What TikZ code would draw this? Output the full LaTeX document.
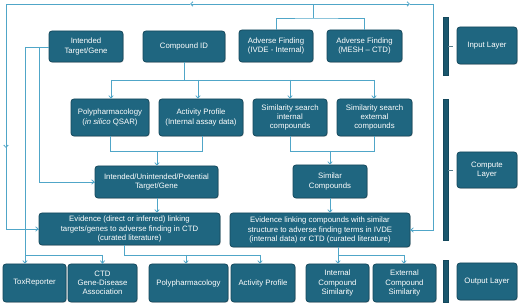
\documentclass[tikz,border=0pt]{standalone}
\usepackage{fontspec}
\setmainfont{Liberation Sans}
\usetikzlibrary{arrows.meta,shadows}
\definecolor{boxfill}{RGB}{31,102,128}
\definecolor{boxedge}{RGB}{20,72,92}
\definecolor{wire}{RGB}{80,166,200}
\begin{document}
\begin{tikzpicture}[x=1pt,y=-1pt,
  box/.style={draw=boxedge,line width=0.8pt,fill=boxfill,rounded corners=3pt,text=white,
    align=center,inner sep=1pt,font=\fontsize{7.8}{9.2}\selectfont,
    drop shadow={shadow xshift=0.8pt,shadow yshift=-0.8pt,opacity=0.35}},
  wirel/.style={draw=wire,line width=0.8pt},
  arr/.style={wirel,-{Straight Barb[length=2.4pt,width=4.5pt]}},
  bar/.style={fill=boxfill!85!black,draw=boxedge,line width=0.4pt},
  tick/.style={draw=boxedge!70,line width=0.5pt}]
\useasboundingbox (0,0) rectangle (520,307);
% nodes
\node[box,minimum width=74pt,minimum height=31pt] (intended) at (86,46.5) {Intended\\Target/Gene};
\node[box,minimum width=82pt,minimum height=31pt] (cid) at (184,46.5) {Compound ID};
\node[box,minimum width=74pt,minimum height=32pt] (ivde) at (276,46) {Adverse Finding\\(IVDE - Internal)};
\node[box,minimum width=75pt,minimum height=32pt] (mesh) at (364.5,46) {Adverse Finding\\(MESH – CTD)};
\node[box,minimum width=60pt,minimum height=37pt] (inputL) at (487,45.5) {Input Layer};
\node[box,minimum width=78pt,minimum height=37pt] (poly) at (110,117.5) {Polypharmacology\\(\textit{in silico} QSAR)};
\node[box,minimum width=84pt,minimum height=37pt] (act) at (201,117.5) {Activity Profile\\(Internal assay data)};
\node[box,minimum width=74pt,minimum height=37pt] (simint) at (290,117.5) {Similarity search\\internal\\compounds};
\node[box,minimum width=75pt,minimum height=37pt] (simext) at (374.5,117.5) {Similarity search\\external\\compounds};
\node[box,minimum width=60pt,minimum height=36pt] (computeL) at (487,170) {Compute\\Layer};
\node[box,minimum width=123pt,minimum height=32pt] (iup) at (156.5,182) {Intended/Unintended/Potential\\Target/Gene};
\node[box,minimum width=74pt,minimum height=33pt] (simc) at (330,181.5) {Similar\\Compounds};
\node[box,minimum width=181pt,minimum height=32pt] (evl) at (129.5,229) {Evidence (direct or inferred) linking\\targets/genes to adverse finding in CTD\\(curated literature)};
\node[box,minimum width=180pt,minimum height=34pt] (evr) at (320,230) {Evidence linking compounds with similar\\structure to adverse finding terms in IVDE\\(internal data) or CTD (curated literature)};
\node[box,minimum width=63pt,minimum height=38pt] (tox) at (34.5,283) {ToxReporter};
\node[box,minimum width=69pt,minimum height=38pt] (ctd) at (102.5,283) {CTD\\Gene-Disease\\Association};
\node[box,minimum width=79pt,minimum height=38pt] (polyo) at (188.5,283) {Polypharmacology};
\node[box,minimum width=64pt,minimum height=38pt] (acto) at (263,283) {Activity Profile};
\node[box,minimum width=63pt,minimum height=38pt] (intc) at (337.5,283) {Internal\\Compound\\Similarity};
\node[box,minimum width=63pt,minimum height=38pt] (extc) at (404.5,283) {External\\Compound\\Similarity};
\node[box,minimum width=60pt,minimum height=37pt] (outputL) at (487,281.5) {Output Layer};
% layer bars
\path[bar] (443,17) rectangle (448,75);
\path[bar] (443,99) rectangle (448,240);
\path[bar] (443,260) rectangle (448,302);
\draw[tick] (448,46) -- (453,46);
\draw[tick] (448,170) -- (453,170);
% coordinates
\coordinate (jtop) at (313,18);
\coordinate (ttop) at (313,4);
\coordinate (tl) at (6,4);
\coordinate (tr) at (433,4);
% adverse findings bracket
\draw[wirel] (ivde.north) |- (jtop) -| (mesh.north);
\draw[wirel] (jtop) -- (ttop);
\draw[arr] (ttop) -- (190,4);
\draw[wirel] (190,4) -- (tl) -- (6,147);
\draw[arr] (6,140) -- (6,148);
\draw[wirel] (6,147) |- (evl.west);
\draw[arr] (6,229) -- (evl.west);
\draw[arr] (ttop) -- (410,4);
\draw[wirel] (410,4) -- (tr) |- (evr.east);
\draw[arr] (433,230) -- (evr.east);
% intended target lines
\draw[wirel] (intended.west |- 0,47) -- (25,47);
\draw[wirel] (39,47) |- (iup.west);
\draw[arr] (39,182) -- (iup.west);
\draw[arr] (25,47) -- (tox.north -| 25,0);
\draw[wirel] (25,255) -| (ctd.north);
\draw[arr] (ctd.north |- 0,255) -- (ctd.north);
% compound id bus
\draw[wirel] (cid.south) -- (184,80);
\draw[wirel] (111,80) -- (374,80);
\draw[arr] (111,80) -- (poly.north -| 111,0);
\draw[arr] (198,80) -- (act.north -| 198,0);
\draw[arr] (290,80) -- (simint.north);
\draw[arr] (374,80) -- (simext.north -| 374,0);
% merge to compute
\draw[wirel] (poly.south) |- (202,151) -- (act.south -| 202,0);
\draw[arr] (157,151) -- (iup.north -| 157,0);
\draw[wirel] (simint.south) |- (374,151) -- (simext.south -| 374,0);
\draw[arr] (330,151) -- (simc.north);
\draw[arr] (iup.south -| 157,0) -- (evl.north -| 157,0);
\draw[arr] (simc.south) -- (evr.north -| 330,0);
% outputs
\draw[wirel] (evl.south -| 124,0) |- (260,255);
\draw[arr] (186,255) -- (polyo.north -| 186,0);
\draw[arr] (260,255) -- (acto.north -| 260,0);
\draw[arr] (evr.south -| 338,0) -- (intc.north -| 338,0);
\draw[wirel] (338,255) -- (404,255);
\draw[arr] (404,255) -- (extc.north -| 404,0);
\end{tikzpicture}
\end{document}
